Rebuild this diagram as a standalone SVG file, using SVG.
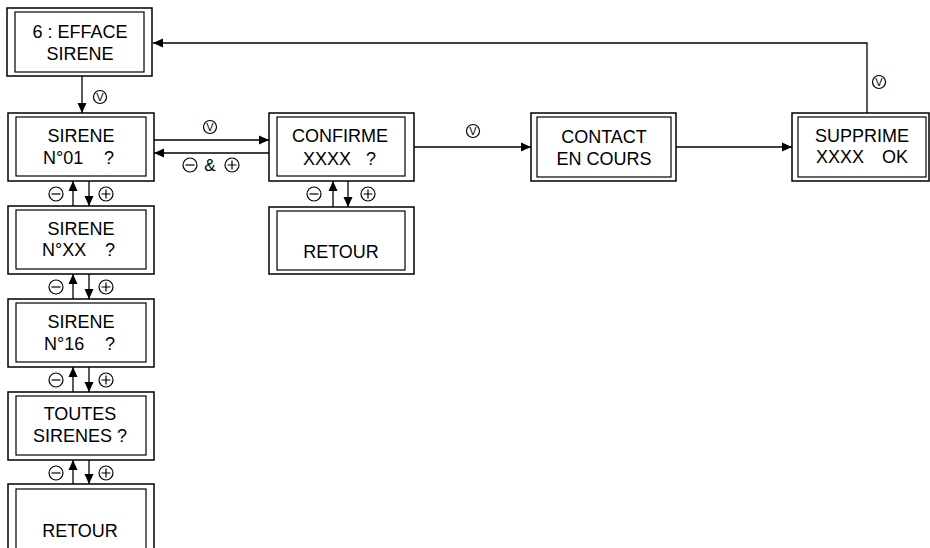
<svg xmlns="http://www.w3.org/2000/svg" width="930" height="548" viewBox="0 0 930 548">
<style>
.o{fill:#fff;stroke:#000;stroke-width:1.5}
.i{fill:none;stroke:#000;stroke-width:1.2}
.t{font-family:"Liberation Sans",Arial,sans-serif;font-size:18px;fill:#000}
.c{text-anchor:middle}
.ln{fill:none;stroke:#000;stroke-width:1.3}
.ic{fill:#fff;stroke:#000;stroke-width:1.2}
.v{font-family:"Liberation Sans",Arial,sans-serif;font-size:11px;text-anchor:middle;fill:#000}
.amp{font-family:"Liberation Sans",Arial,sans-serif;font-size:17px;text-anchor:middle;fill:#000}
</style>
<defs>
<marker id="ah" markerUnits="userSpaceOnUse" markerWidth="10" markerHeight="10" refX="10" refY="5" orient="auto">
<path d="M0,0.5 L10,5 L0,9.5 z" fill="#000"/>
</marker>
<g id="minus"><circle r="7" class="ic"/><path d="M-4.5,0 H4.5" stroke="#000" stroke-width="1.2"/></g>
<g id="plus"><circle r="7" class="ic"/><path d="M-4.5,0 H4.5 M0,-4.5 V4.5" stroke="#000" stroke-width="1.2"/></g>
<g id="vkey"><circle r="6.5" class="ic"/><text y="4" class="v">V</text></g>
</defs>

<g id="connectors">
<path class="ln" d="M867,113 V43 H153" marker-end="url(#ah)"/>
<path class="ln" d="M82,76 V113" marker-end="url(#ah)"/>
<path class="ln" d="M154,140 H269" marker-end="url(#ah)"/>
<path class="ln" d="M269,153 H154" marker-end="url(#ah)"/>
<path class="ln" d="M414,147 H531" marker-end="url(#ah)"/>
<path class="ln" d="M676,147 H792" marker-end="url(#ah)"/>
<path class="ln" d="M73,206 V181" marker-end="url(#ah)"/>
<path class="ln" d="M89,181 V206" marker-end="url(#ah)"/>
<path class="ln" d="M73,299 V274" marker-end="url(#ah)"/>
<path class="ln" d="M89,274 V299" marker-end="url(#ah)"/>
<path class="ln" d="M73,392 V367" marker-end="url(#ah)"/>
<path class="ln" d="M89,367 V392" marker-end="url(#ah)"/>
<path class="ln" d="M73,484 V460" marker-end="url(#ah)"/>
<path class="ln" d="M89,460 V484" marker-end="url(#ah)"/>
<path class="ln" d="M333,207 V181" marker-end="url(#ah)"/>
<path class="ln" d="M348,181 V207" marker-end="url(#ah)"/>
<use href="#vkey" x="100" y="97"/>
<use href="#vkey" x="210" y="127"/>
<use href="#vkey" x="473" y="131"/>
<use href="#vkey" x="879" y="82"/>
<use href="#minus" x="190" y="165"/>
<text x="210" y="171" class="amp">&amp;</text>
<use href="#plus" x="232" y="165"/>
<use href="#minus" x="56" y="194"/><use href="#plus" x="106" y="194"/>
<use href="#minus" x="56" y="287"/><use href="#plus" x="106" y="287"/>
<use href="#minus" x="56" y="380"/><use href="#plus" x="106" y="380"/>
<use href="#minus" x="56" y="473"/><use href="#plus" x="106" y="473"/>
<use href="#minus" x="314" y="194"/><use href="#plus" x="368" y="194"/>
</g>

<g id="n-efface">
<rect class="o" x="7" y="8" width="145" height="68"/>
<rect class="i" x="15" y="12" width="129" height="60"/>
<text class="t c" x="80" y="38">6 : EFFACE</text>
<text class="t c" x="80" y="60">SIRENE</text>
</g>
<g id="n-sirene01">
<rect class="o" x="8" y="113" width="146" height="68"/>
<rect class="i" x="16" y="117" width="130" height="59"/>
<text class="t c" x="81" y="142">SIRENE</text>
<text class="t" x="43" y="164">N°01</text>
<text class="t" x="104" y="164">?</text>
</g>
<g id="n-sirenexx">
<rect class="o" x="8" y="206" width="146" height="68"/>
<rect class="i" x="16" y="210" width="130" height="59"/>
<text class="t c" x="81" y="235">SIRENE</text>
<text class="t" x="42" y="256">N°XX</text>
<text class="t" x="105" y="256">?</text>
</g>
<g id="n-sirene16">
<rect class="o" x="8" y="299" width="146" height="68"/>
<rect class="i" x="16" y="303" width="130" height="59"/>
<text class="t c" x="81" y="328">SIRENE</text>
<text class="t" x="44" y="350">N°16</text>
<text class="t" x="105" y="350">?</text>
</g>
<g id="n-toutes">
<rect class="o" x="8" y="392" width="146" height="68"/>
<rect class="i" x="16" y="396" width="130" height="59"/>
<text class="t c" x="80" y="420">TOUTES</text>
<text class="t c" x="80" y="442">SIRENES ?</text>
</g>
<g id="n-retour1">
<rect class="o" x="8" y="484" width="146" height="80"/>
<rect class="i" x="16" y="489" width="130" height="70"/>
<text class="t c" x="80" y="537">RETOUR</text>
</g>
<g id="n-confirme">
<rect class="o" x="269" y="113" width="145" height="68"/>
<rect class="i" x="277" y="117" width="128" height="59"/>
<text class="t c" x="340" y="142">CONFIRME</text>
<text class="t" x="303" y="165">XXXX</text>
<text class="t" x="366" y="165">?</text>
</g>
<g id="n-retour2">
<rect class="o" x="269" y="207" width="145" height="67"/>
<rect class="i" x="277" y="211" width="128" height="59"/>
<text class="t c" x="341" y="258">RETOUR</text>
</g>
<g id="n-contact">
<rect class="o" x="531" y="113" width="145" height="68"/>
<rect class="i" x="537" y="117" width="134" height="60"/>
<text class="t c" x="604" y="143">CONTACT</text>
<text class="t c" x="604" y="165">EN COURS</text>
</g>
<g id="n-supprime">
<rect class="o" x="792" y="113" width="137" height="68"/>
<rect class="i" x="798" y="117" width="128" height="60"/>
<text class="t c" x="862" y="142">SUPPRIME</text>
<text class="t" x="816" y="163">XXXX</text>
<text class="t" x="882" y="163">OK</text>
</g>
</svg>
